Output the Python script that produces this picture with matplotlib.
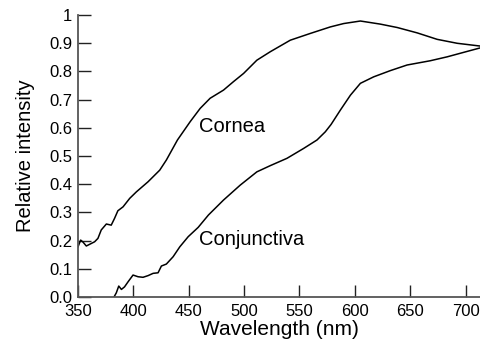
import matplotlib
matplotlib.use("Agg")
import numpy as np
from matplotlib import pyplot as plt

plt.rcParams['font.family'] = ['Liberation Sans', 'DejaVu Sans']

# cornea spectrum
cornea_nm = [350, 352.4, 354.5, 357.5, 362, 365, 368, 371, 375.6, 380, 383, 386, 390.7,
             396.7, 402.7, 413.3, 423.8, 429.8, 439.8, 451.3, 460.3, 469.3, 481.4, 490.4,
             499.5, 511.5, 523.6, 541.7, 559.8, 577.8, 589.9, 605, 623, 638.2, 656.2,
             674.3, 692.4, 713.5]
cornea_val = [0.178, 0.202, 0.195, 0.181, 0.19, 0.196, 0.208, 0.238, 0.259, 0.255, 0.279,
              0.306, 0.32, 0.35, 0.373, 0.409, 0.45, 0.486, 0.557, 0.622, 0.669, 0.705,
              0.734, 0.764, 0.793, 0.84, 0.87, 0.911, 0.935, 0.958, 0.97, 0.979, 0.968,
              0.956, 0.937, 0.914, 0.9, 0.89]

# conjunctiva spectrum
conj_nm = [382.5, 384.6, 386.8, 389.2, 392, 395.2, 399.7, 404.2, 408.7, 413.3, 417.8,
           422.3, 425.3, 429.8, 435.9, 441.9, 449.5, 458.5, 467.8, 481.4, 496.5, 511.5,
           523.6, 538.7, 553.7, 565.8, 573.3, 578.5, 586.9, 596, 605, 617, 632, 647.2,
           668, 683.4, 698.4, 713.5]
conj_val = [0.0, 0.015, 0.039, 0.027, 0.036, 0.054, 0.078, 0.072, 0.07, 0.076, 0.084,
            0.086, 0.11, 0.117, 0.143, 0.178, 0.214, 0.247, 0.291, 0.344, 0.397, 0.444,
            0.466, 0.492, 0.527, 0.557, 0.586, 0.612, 0.663, 0.716, 0.758, 0.781, 0.803,
            0.823, 0.838, 0.852, 0.868, 0.884]

xticks = [350, 400, 450, 500, 550, 600, 650, 700]
yticks = [0.0, 0.1, 0.2, 0.3, 0.4, 0.5, 0.6, 0.7, 0.8, 0.9, 1.0]
ylabels = ['0.0', '0.1', '0.2', '0.3', '0.4', '0.5', '0.6', '0.7', '0.8', '0.9', '1']

fig = plt.figure(figsize=(4.8, 3.43), dpi=100)
ax = fig.add_axes([0.1625, 0.134, 0.8375, 0.822])

ax.plot(cornea_nm, cornea_val, color='black', lw=1.1)
ax.plot(conj_nm, conj_val, color='black', lw=1.1)

ax.text(459.4, 0.606, 'Cornea', fontsize=14.5, va='center', ha='left')
ax.text(459.4, 0.205, 'Conjunctiva', fontsize=14.5, va='center', ha='left')

ax.set_xlim(350, 713)
ax.set_ylim(0, 1.0)
ax.set_xticks(xticks)
ax.set_yticks(yticks)
ax.set_yticklabels(ylabels)
ax.tick_params(direction='in', length=9, width=1, labelsize=12, color='#222222')
ax.tick_params(axis='y', pad=4)
ax.tick_params(axis='x', pad=5)
for s in ['top', 'right']:
    ax.spines[s].set_visible(False)
for s in ['left', 'bottom']:
    ax.spines[s].set_color('#555555')
    ax.spines[s].set_linewidth(1.3)

ax.set_xlabel('Wavelength (nm)', fontsize=15, labelpad=1)
ax.set_ylabel('Relative intensity', fontsize=14.5, labelpad=10)

fig.savefig('out.png', dpi=100)
